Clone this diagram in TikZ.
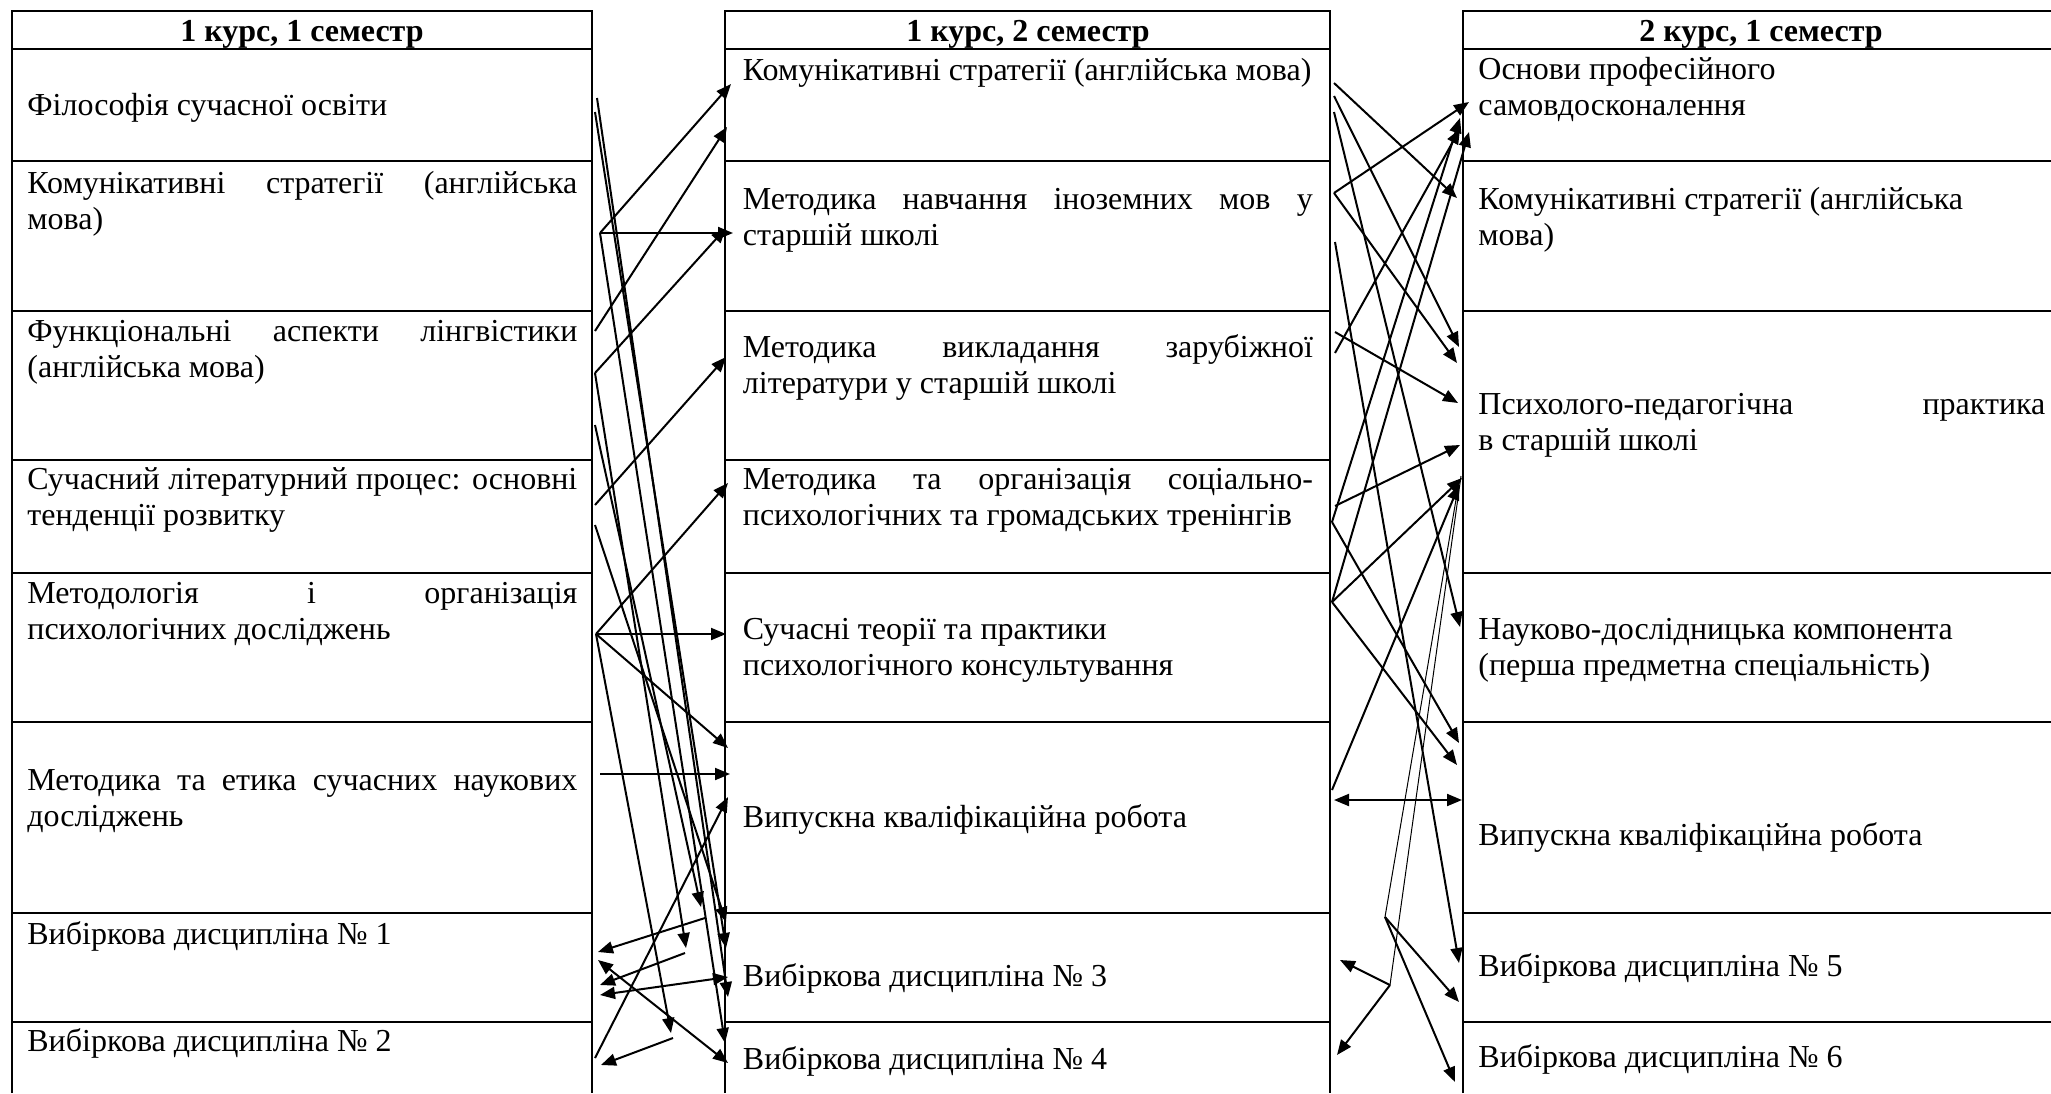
\documentclass[tikz,border=0pt]{standalone}
\usepackage{fontspec}
\setmainfont{Liberation Serif}
\usetikzlibrary{arrows.meta}

\newcommand{\spread}[2]{\makebox[#1][s]{#2}}
\newcommand{\celltxt}[2]{\parbox[t]{#1}{#2}}

\tikzset{
  txt/.style={anchor=base west, inner sep=0pt, font=\fontsize{16}{18}\selectfont},
  ttl/.style={anchor=base, inner sep=0pt, font=\fontsize{16}{18}\selectfont\bfseries},
  grid/.style={line width=1pt},
  link/.style={line width=1pt, -{Triangle[length=7.5pt,width=6pt]}},
  twoway/.style={line width=1pt, {Triangle[length=7.5pt,width=6pt]}-{Triangle[length=7.5pt,width=6pt]}},
  thin/.style={line width=0.5pt}
}

\begin{document}
\begin{tikzpicture}[x=0.5pt,y=-0.5pt]
\useasboundingbox (0,0) rectangle (2051,1093);
\clip (0,0) rectangle (2051,1093);
% Tables
\foreach \xa/\xb in {12/592, 725/1330} {
  \draw[grid] (\xa,1093) -- (\xa,10.7) -- (\xb,10.7) -- (\xb,1093);
  \foreach \y in {49,161,311,460,573,722,913,1021.5}
    \draw[grid] (\xa,\y) -- (\xb,\y);
}
\draw[grid] (1463,1093) -- (1463,10.7) -- (2060,10.7) -- (2060,1093);
\foreach \y in {49,161,311,573,722,913,1021.5}
  \draw[grid] (1463,\y) -- (2060,\y);
% Headers
\node[ttl] (hl) at (302,41) {1 курс, 1 семестр};
\node[ttl] (hm) at (1028,41) {1 курс, 2 семестр};
\node[ttl] (hr) at (1761,41) {2 курс, 1 семестр};
% 1 course, 1 semester
\node[txt] (L1) at (27,115) {Філософія сучасної освіти};
\node[txt] (L2) at (27,193) {\celltxt{275pt}{\spread{275pt}{Комунікативні стратегії (англійська}\\мова)}};
\node[txt] (L3) at (27,341) {\celltxt{275pt}{\spread{275pt}{Функціональні аспекти лінгвістики}\\(англійська мова)}};
\node[txt] (L4) at (27,489) {\celltxt{275pt}{\spread{275pt}{Сучасний літературний процес: основні}\\тенденції розвитку}};
\node[txt] (L5) at (27,603) {\celltxt{275pt}{\spread{275pt}{Методологія і організація}\\психологічних досліджень}};
\node[txt] (L6) at (27,790) {\celltxt{275pt}{\spread{275pt}{Методика та етика сучасних наукових}\\досліджень}};
\node[txt] (L7) at (27,944) {Вибіркова дисципліна № 1};
\node[txt] (L8) at (27,1051) {Вибіркова дисципліна № 2};
% 1 course, 2 semester
\node[txt] (M1) at (742.5,80) {Комунікативні стратегії (англійська мова)};
\node[txt] (M2) at (742.5,209) {\celltxt{285pt}{\spread{285pt}{Методика навчання іноземних мов у}\\старшій школі}};
\node[txt] (M3) at (742.5,357) {\celltxt{285pt}{\spread{285pt}{Методика викладання зарубіжної}\\літератури у старшій школі}};
\node[txt] (M4) at (742.5,489) {\celltxt{285pt}{\spread{285pt}{Методика та організація соціально-}\\психологічних та громадських тренінгів}};
\node[txt] (M5) at (742.5,639) {\celltxt{285pt}{Сучасні теорії та практики\\психологічного консультування}};
\node[txt] (M6) at (742.5,827) {Випускна кваліфікаційна робота};
\node[txt] (M7) at (742.5,986) {Вибіркова дисципліна № 3};
\node[txt] (M8) at (742.5,1069) {Вибіркова дисципліна № 4};
% 2 course, 1 semester
\node[txt] (R1) at (1478,79) {\celltxt{283.5pt}{Основи професійного\\самовдосконалення}};
\node[txt] (R2) at (1478,209) {\celltxt{283.5pt}{Комунікативні стратегії (англійська\\мова)}};
\node[txt] (R3) at (1478,414) {\celltxt{283.5pt}{\spread{283.5pt}{Психолого-педагогічна практика}\\в старшій школі}};
\node[txt] (R4) at (1478,639) {\celltxt{283.5pt}{Науково-дослідницька компонента\\(перша предметна спеціальність)}};
\node[txt] (R5) at (1478,845) {Випускна кваліфікаційна робота};
\node[txt] (R6) at (1478,976) {Вибіркова дисципліна № 5};
\node[txt] (R7) at (1478,1067) {Вибіркова дисципліна № 6};
% Points, first gap
\foreach \n/\x/\y in {a1/597/98, a2/595/112, a3/600/233, a4/595/331, a5/595/373,
    a6/595/425, a7/595/505, a8/595/525, a9/596/634, a10/600/774, a11/595/1058,
    m1/731/84, m2/727/127, m3/733/233, m4/726/228, m5/726/357, m6/728/483,
    m7/726/634, m8/728/748, m9/730/774, m10/728/797, m11/726/922, m12/726/948,
    m13/728/997, m14/725/1043,
    k1/686/948, k1b/685/953, k2/701/907, k2b/705/918, k3/671/1033, k3b/673/1038,
    l1/600/985, l2/598/952, l3/601/1065,
    d1/600/995, d2/728/977, d3/598/960, d4/728/1063}
  \coordinate (\n) at (\x,\y);
% Points, second gap
\foreach \n/\x/\y in {c1/1334/83, c2/1334/96, c3/1334/112, c4/1334/193, c5/1335/242,
    c6/1335/332, c7/1335/353, c8/1335/506, c9/1332/522, c10/1332/602, c11/1332/790,
    r1/1469/102, r2/1460/118, r3/1460/129, r4/1469/132, r5/1457/198, r6/1459/347,
    r7/1457/363, r8/1458/403, r9/1460/445, r10/1462/478, r11/1459/485, r12/1460/627,
    r13/1459/743, r14/1457/765, r15/1459/963, r16/1459/1002, r17/1455/1082,
    d5/1334/800, d6/1462/800, h1/1385/917, h2/1390/985, u1/1459/482, u2/1461/476,
    n1/1340/960, n2/1337/1055}
  \coordinate (\n) at (\x,\y);
% Arrows, first gap
\foreach \a/\b in {a3/m1, a4/m2, a3/m3, a5/m4, a7/m5, a9/m6, a9/m7, a9/m8, a10/m9,
    a11/m10, a8/m11, a2/m12, a1/m13, a3/m14, a5/k1, a6/k2, a9/k3,
    k1b/l1, k2b/l2, k3b/l3}
  \draw[link] (\a) -- (\b);
\draw[twoway] (d1) -- (d2);
\draw[twoway] (d3) -- (d4);
% Arrows, second gap
\foreach \a/\b in {c1/r5, c2/r6, c3/r12, c4/r1, c4/r7, c5/r15, c6/r8, c7/r3, c8/r9,
    c9/r2, c9/r13, c10/r10, c10/r4, c10/r14, c11/r11,
    h1/r16, h1/r17, h2/n1, h2/n2}
  \draw[link] (\a) -- (\b);
\draw[twoway] (d5) -- (d6);
\draw[thin] (h1) -- (u1);
\draw[thin] (h2) -- (u2);
\end{tikzpicture}
\end{document}
